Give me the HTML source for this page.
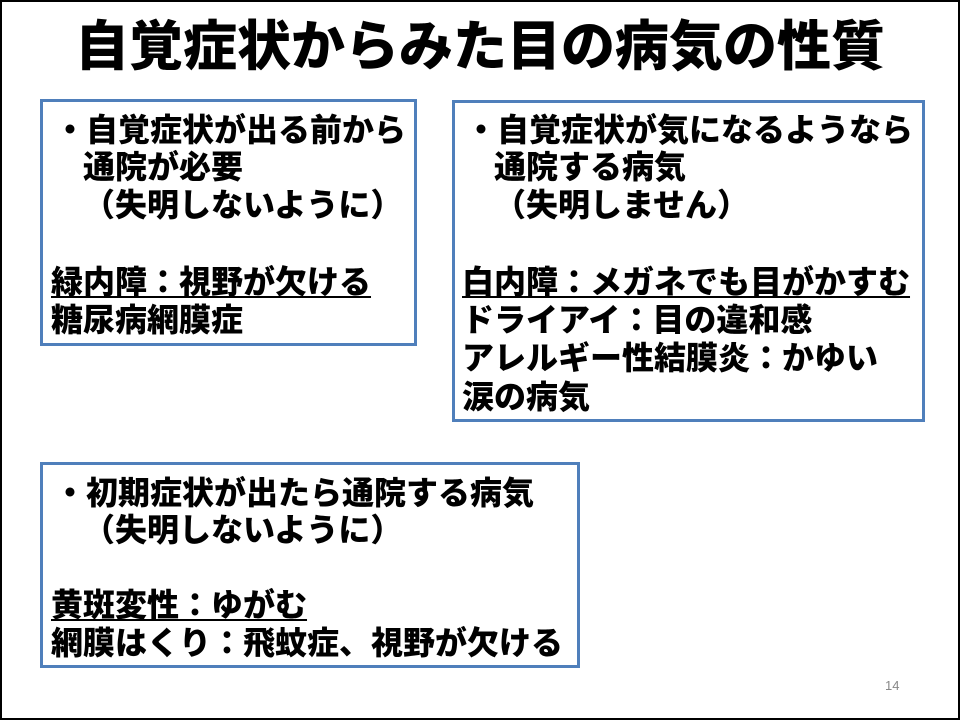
<!DOCTYPE html>
<html><head><meta charset="utf-8"><style>
html,body{margin:0;padding:0}
body{width:960px;height:720px;position:relative;background:#fff;overflow:hidden;font-family:"Liberation Sans","Noto Sans CJK JP",sans-serif;}
.frame{position:absolute;left:0;top:0;width:956px;height:716px;border:2px solid #000;}
.title{position:absolute;left:0;width:960px;top:17px;text-align:center;font-size:54px;font-weight:900;line-height:60px;white-space:nowrap;}
.box{position:absolute;border:3px solid #4f7fbb;box-sizing:border-box;}
.t{position:absolute;font-size:32px;font-weight:900;line-height:36px;white-space:nowrap;}
.u{text-decoration:underline;text-decoration-thickness:2px;text-underline-offset:3px;}
.pg{position:absolute;left:885px;top:678px;font-size:13px;color:#888;}
</style></head><body>
<div class="frame"></div>
<div class="title">自覚症状からみた目の病気の性質</div>

<div class="box" style="left:40px;top:99px;width:377px;height:247px"></div>
<div class="t" style="left:54px;top:112px">・自覚症状が出る前から</div>
<div class="t" style="left:83px;top:149px">通院が必要</div>
<div class="t" style="left:83px;top:187px">（失明しないように）</div>
<div class="t u" style="left:51px;top:264px">緑内障：視野が欠ける</div>
<div class="t" style="left:51px;top:302px">糖尿病網膜症</div>

<div class="box" style="left:452px;top:100px;width:473px;height:322px"></div>
<div class="t" style="left:465px;top:112px">・自覚症状が気になるようなら</div>
<div class="t" style="left:494px;top:149px">通院する病気</div>
<div class="t" style="left:494px;top:187px">（失明しません）</div>
<div class="t u" style="left:462px;top:264px">白内障：メガネでも目がかすむ</div>
<div class="t" style="left:462px;top:302px">ドライアイ：目の違和感</div>
<div class="t" style="left:462px;top:340px">アレルギー性結膜炎：かゆい</div>
<div class="t" style="left:462px;top:379px">涙の病気</div>

<div class="box" style="left:40px;top:462px;width:540px;height:206px"></div>
<div class="t" style="left:54px;top:475px">・初期症状が出たら通院する病気</div>
<div class="t" style="left:83px;top:512px">（失明しないように）</div>
<div class="t u" style="left:51px;top:587px">黄斑変性：ゆがむ</div>
<div class="t" style="left:51px;top:625px">網膜はくり：飛蚊症、視野が欠ける</div>

<div class="pg">14</div>
</body></html>
